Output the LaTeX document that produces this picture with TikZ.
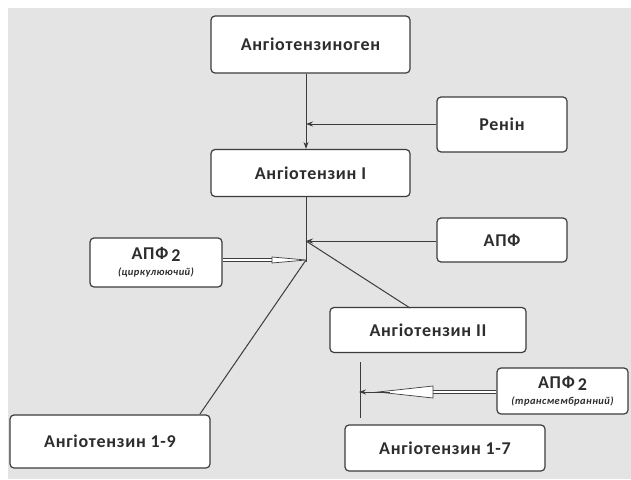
\documentclass[tikz,border=0pt]{standalone}
\usepackage{fontspec}
\setmainfont{Carlito}[LetterSpace=4]
\usetikzlibrary{arrows.meta,calc}

\definecolor{bgray}{RGB}{228,228,228}
\definecolor{boxline}{RGB}{60,60,60}
\definecolor{txt}{RGB}{45,45,45}
\newcommand{\subtxt}{\bfseries\itshape\fontsize{10.5}{11}\selectfont}

\begin{document}
\begin{tikzpicture}[x=1pt,y=-1pt]
	%\draw[help lines] (0,0) grid[step=50] (631,479);
	\tikzset{
		box/.style={draw=boxline, fill=white, rounded corners=4pt,
			line width=1.2pt, inner sep=0pt, text=txt,
			font=\bfseries\fontsize{18}{20}\selectfont},
		wbox/.style={box, minimum width=199pt, minimum height=47pt},
		sbox/.style={box, minimum width=130pt, minimum height=47pt},
		link/.style={draw=boxline, line width=1pt},
		tipped/.style={link, -{Stealth[length=7pt,width=5pt]}},
		dbl/.style={draw=boxline, line width=0.7pt, double=white, double distance=1.8pt},
		hollow/.style={draw=boxline, line width=0.7pt, fill=white}
	}
	\useasboundingbox (0,0) rectangle (631,479);
	\fill[white] (0,0) rectangle (631,479);
	\fill[bgray] (8,8) rectangle (631,479);
	
	% boxes
	\node[wbox, minimum height=57pt] (agen) at (310.5,44.5) {Ангіотензиноген};
	\node[sbox, minimum height=55pt] (renin) at (502,124.5) {Ренін};
	\node[wbox] (ang1) at (310.5,173) {Ангіотензин I};
	\node[sbox, minimum height=44pt] (apf) at (502,240) {АПФ};
	\node[box, minimum width=132pt, minimum height=49pt, align=center] (apf2c) at (156,262.5)
		{АПФ\,\raisebox{-2pt}{2}\\[-4pt]{\subtxt (циркулюючий)}};
	\node[wbox, minimum width=196pt, minimum height=45pt] (ang2) at (428,330) {Ангіотензин II};
	\node[box, minimum width=131pt, minimum height=46pt, align=center] (apf2t) at (562.5,391)
		{АПФ\,\raisebox{-2pt}{2}\\[-4pt]{\subtxt (трансмембранний)}};
	\node[wbox, minimum width=200pt, minimum height=53pt] (ang19) at (110,441.5) {Ангіотензин 1-9};
	\node[wbox, minimum width=200pt, minimum height=46pt] (ang17) at (445,448) {Ангіотензин 1-7};
	
	% junctions
	\coordinate (j1) at (306,124);
	\coordinate (j2) at (306,241);
	\coordinate (j3) at (306,260);
	\coordinate (k1) at (360,362);
	\coordinate (k2) at (360,392);
	\coordinate (k3) at (360,418);
	
	\draw[tipped] (agen.south -| j1) -- (ang1.north -| j1);
	\draw[tipped] (renin.west |- j1) -- (j1);
	
	\draw[link] (ang1.south -| j2) -- ($(j3)+(0,2)$);
	\draw[tipped] (apf.west |- j2) -- (j2);
	\draw[link] (j2) -- (410,308);
	\draw[link] (j3) -- (200,414);
	
	\draw[dbl] (apf2c.east |- j3) -- ($(j3)+(-34,0)$);
	\draw[hollow] ($(j3)+(-34,-3)$) -- (j3) -- ($(j3)+(-34,3)$) -- cycle;
	
	\draw[link] (k1) -- (k3);
	\draw[dbl] (apf2t.west |- k2) -- ($(k2)+(73,0)$);
	\draw[hollow] ($(k2)+(73,-6)$) -- ($(k2)+(18,0)$) -- ($(k2)+(73,6)$) -- cycle;
	\draw[tipped, shorten >=-1pt] ($(k2)+(30,0)$) -- (k2);
\end{tikzpicture}
\end{document}
